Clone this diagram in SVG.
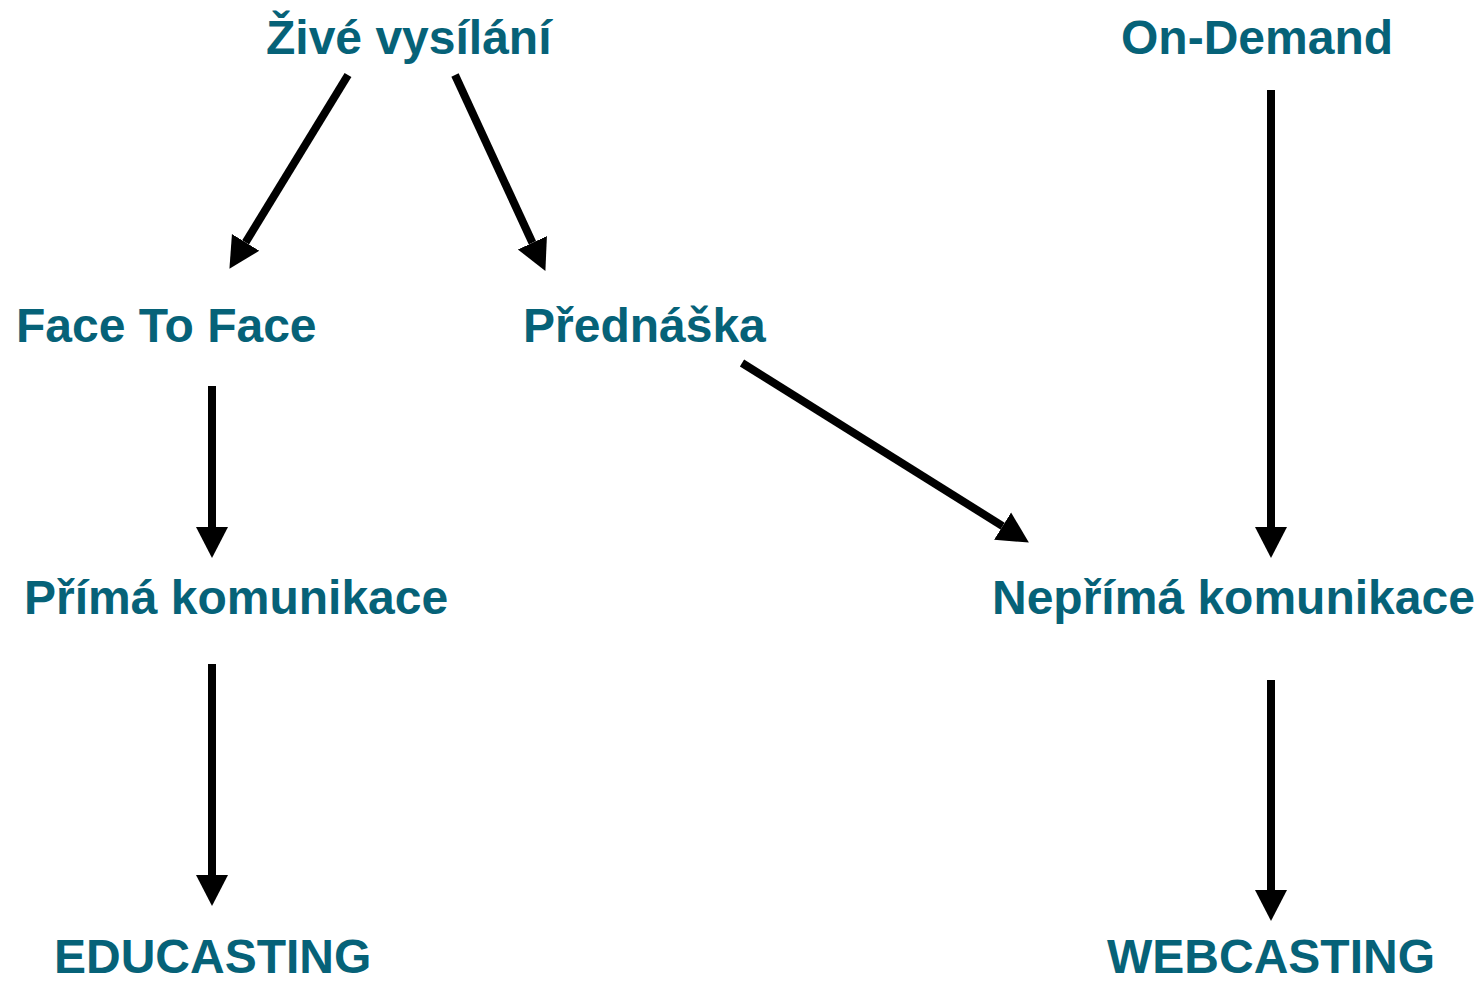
<svg xmlns="http://www.w3.org/2000/svg" width="1483" height="984" viewBox="0 0 1483 984">
<defs>
<style>
.t{font-family:"Liberation Sans",Arial,sans-serif;font-weight:bold;font-size:48px;fill:#066278}
.c{stroke:#000;stroke-width:8;fill:none;marker-end:url(#ah)}
</style>
<marker id="ah" markerUnits="userSpaceOnUse" markerWidth="32" markerHeight="34" refX="0" refY="16" orient="auto" viewBox="0 0 32 32">
<path d="M0,0 L31,16 L0,32 z" fill="#000"/>
</marker>
</defs>
<rect width="1483" height="984" fill="#fff"/>
<g id="connectors">
<line class="c" x1="348" y1="75" x2="245.6" y2="242.4"/>
<line class="c" x1="455" y1="75" x2="532.4" y2="242.8"/>
<line class="c" x1="212" y1="386" x2="212" y2="527"/>
<line class="c" x1="212" y1="664" x2="212" y2="875"/>
<line class="c" x1="742" y1="363" x2="1002.6" y2="526.1"/>
<line class="c" x1="1271" y1="90" x2="1271" y2="527"/>
<line class="c" x1="1271" y1="680" x2="1271" y2="890"/>
</g>
<g id="zive"><text class="t" x="266" y="54">Živé vysílání</text></g>
<g id="ondemand"><text class="t" x="1121" y="54">On-Demand</text></g>
<g id="face"><text class="t" x="16" y="342">Face To Face</text></g>
<g id="prednaska"><text class="t" x="523" y="342">Přednáška</text></g>
<g id="prima"><text class="t" x="24" y="614">Přímá komunikace</text></g>
<g id="neprima"><text class="t" x="992" y="614">Nepřímá komunikace</text></g>
<g id="educasting"><text class="t" x="54" y="973">EDUCASTING</text></g>
<g id="webcasting"><text class="t" x="1107" y="973">WEBCASTING</text></g>
</svg>
